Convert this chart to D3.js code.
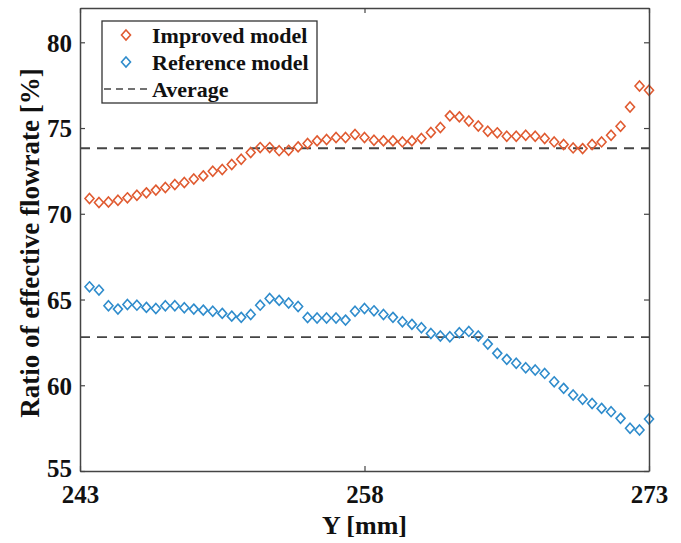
<!DOCTYPE html>
<html>
<head>
<meta charset="utf-8">
<script src="https://cdn.jsdelivr.net/npm/d3@7"></script>
<style>
    body { margin: 0; background: #fff; }
    svg text { font-family: "Liberation Serif", "Times New Roman", "DejaVu Serif", serif; font-weight: bold; fill: #111; }
</style>
</head>
<body>
<div id="chart"></div>
<script>
// positions along Y [mm], 0.5 mm apart
const yPos = d3.range(60).map(i => 243.5 + i * 0.5);

const improved = [
    70.89, 70.66, 70.69, 70.79, 70.93, 71.08, 71.22, 71.38, 71.53, 71.71,
    71.82, 72.03, 72.21, 72.48, 72.58, 72.87, 73.18, 73.57, 73.86, 73.86,
    73.68, 73.70, 73.90, 74.10, 74.25, 74.33, 74.45, 74.45, 74.62, 74.45,
    74.29, 74.25, 74.25, 74.19, 74.25, 74.39, 74.74, 75.03, 75.71, 75.65,
    75.41, 75.12, 74.81, 74.72, 74.52, 74.52, 74.58, 74.52, 74.39, 74.19,
    74.04, 73.84, 73.80, 74.04, 74.19, 74.58, 75.10, 76.23, 77.45, 77.20
];

const reference = [
    65.74, 65.55, 64.64, 64.44, 64.71, 64.67, 64.54, 64.48, 64.64, 64.64,
    64.52, 64.44, 64.38, 64.32, 64.19, 64.03, 63.96, 64.13, 64.67, 65.06,
    64.95, 64.80, 64.59, 63.95, 63.92, 63.92, 63.92, 63.80, 64.32, 64.48,
    64.34, 64.13, 63.96, 63.70, 63.55, 63.35, 63.02, 62.87, 62.83, 63.06,
    63.14, 62.87, 62.40, 61.86, 61.51, 61.28, 61.02, 60.89, 60.69, 60.20,
    59.82, 59.43, 59.18, 58.94, 58.65, 58.46, 58.07, 57.49, 57.39, 58.03
];

const averages = [73.82, 62.81];
const xTicks = [243, 258, 273];
const yTicks = [55, 60, 65, 70, 75, 80];
const legendLabels = ['Improved model', 'Reference model', 'Average'];
const colors = ['#e05a30', '#2f8ccc'];

let width = 681,
    height = 543,
    margin = { top: 8, right: 32, bottom: 72, left: 80 },
    svg_width = width - margin.left - margin.right,
    svg_height = height - margin.top - margin.bottom;

let svg = d3.select('#chart').append('svg')
    .attr('width', width)
    .attr('height', height);

let g = svg.append('g')
    .attr('transform', 'translate(' + margin.left + ',' + margin.top + ')');

let scaleX = d3.scaleLinear().domain([243, 273]).range([0, svg_width]);
let scaleY = d3.scaleLinear().domain([55, 82]).range([svg_height, 0]);

// diamond marker
function diamond(w, h) {
    let p = d3.path();
    p.moveTo(0, -h / 2);
    p.lineTo(w / 2, 0);
    p.lineTo(0, h / 2);
    p.lineTo(-w / 2, 0);
    p.closePath();
    return p.toString();
}

// Average dashed lines
g.selectAll('.avg')
    .data(averages)
    .enter()
    .append('line')
    .attr('x1', 0)
    .attr('x2', svg_width)
    .attr('y1', d => scaleY(d))
    .attr('y2', d => scaleY(d))
    .attr('stroke', '#444')
    .attr('stroke-width', 1.8)
    .attr('stroke-dasharray', '10,7');

// Series markers
[improved, reference].forEach(function(series, k) {
    g.append('g')
        .selectAll('path')
        .data(series)
        .enter()
        .append('path')
        .attr('d', diamond(9, 10))
        .attr('transform', (d, i) => 'translate(' + scaleX(yPos[i]) + ',' + scaleY(d) + ')')
        .attr('fill', 'none')
        .attr('stroke', colors[k])
        .attr('stroke-width', 1.6);
});

// Axes (box with inward ticks)
let axisColor = '#444';
function styleAxis(sel) {
    sel.attr('font-family', null);
    sel.select('.domain').attr('stroke', axisColor).attr('stroke-width', 1.5);
    sel.selectAll('.tick line').attr('stroke', axisColor).attr('stroke-width', 1.2);
    sel.selectAll('.tick text')
        .style('font-size', '25px')
        .attr('fill', '#111');
}

g.append('g')
    .attr('transform', 'translate(0,' + svg_height + ')')
    .call(d3.axisBottom(scaleX).tickValues(xTicks).tickSizeInner(-5).tickSizeOuter(0).tickPadding(12))
    .call(styleAxis)
    .selectAll('.tick text').attr('dy', '0.8em');

g.append('g')
    .call(d3.axisLeft(scaleY).tickValues(yTicks).tickSizeInner(-5).tickSizeOuter(0).tickPadding(8))
    .call(styleAxis)
    .selectAll('.tick text').attr('dy', d => d === 55 ? '0.2em' : '0.35em');

g.append('g')
    .call(d3.axisTop(scaleX).tickValues(xTicks).tickSizeInner(-5).tickSizeOuter(0).tickFormat(''))
    .call(styleAxis);

g.append('g')
    .attr('transform', 'translate(' + svg_width + ',0)')
    .call(d3.axisRight(scaleY).tickValues(yTicks).tickSizeInner(-5).tickSizeOuter(0).tickFormat(''))
    .call(styleAxis);

// Axis titles
svg.append('text')
    .attr('x', margin.left + svg_width / 2)
    .attr('y', 534)
    .attr('text-anchor', 'middle')
    .style('font-size', '26px')
    .text('Y [mm]');

svg.append('text')
    .attr('transform', 'translate(39,' + 243 + ') rotate(-90)')
    .attr('text-anchor', 'middle')
    .style('font-size', '27px')
    .text('Ratio of effective flowrate [%]');

// Legend
let legend = svg.append('g')
    .attr('transform', 'translate(102,21)');

legend.append('rect')
    .attr('width', 215)
    .attr('height', 82)
    .attr('fill', '#fff')
    .attr('stroke', '#333')
    .attr('stroke-width', 1.3);

legendLabels.forEach(function(label, i) {
    let cy = 14 + i * 27;
    if (i < 2) {
        legend.append('path')
            .attr('d', diamond(9, 10))
            .attr('transform', 'translate(24,' + cy + ')')
            .attr('fill', 'none')
            .attr('stroke', colors[i])
            .attr('stroke-width', 1.6);
    } else {
        legend.append('line')
            .attr('x1', 2)
            .attr('x2', 46)
            .attr('y1', cy)
            .attr('y2', cy)
            .attr('stroke', '#444')
            .attr('stroke-width', 1.5)
            .attr('stroke-dasharray', '7,5');
    }
    legend.append('text')
        .attr('x', 50)
        .attr('y', cy)
        .attr('dy', '0.35em')
        .style('font-size', '22px')
        .text(label);
});
</script>
</body>
</html>
